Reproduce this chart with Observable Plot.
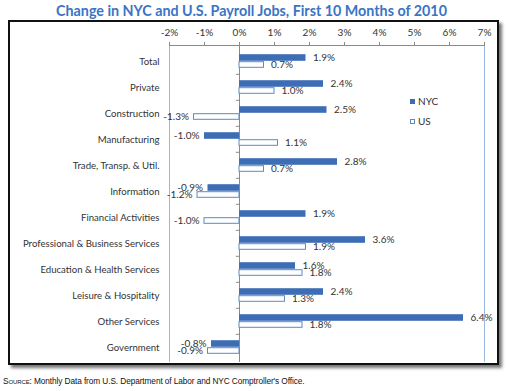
<!DOCTYPE html>
<html>
<head>
<meta charset="utf-8">
<script src="https://cdn.jsdelivr.net/npm/d3@7"></script>
<script src="https://cdn.jsdelivr.net/npm/@observablehq/plot@0.6"></script>
<style>
  html, body { margin: 0; padding: 0; background: #fff; }
  #page { position: relative; width: 507px; height: 391px; overflow: hidden; font-family: Lato, "Open Sans", sans-serif; }
  #title { position: absolute; left: 0; top: 2px; width: 503px; text-align: center; font: bold 14.3px Lato, sans-serif; color: #3a74c4; }
  #box { position: absolute; left: 8px; top: 20px; width: 487px; height: 341px; border: 2px solid #111; box-shadow: 3px 3px 3px #777; background: #fff; }
  #chart { position: absolute; left: 0; top: 20px; }
  #legend { position: absolute; left: 410px; top: 91px; font: 10px Lato, sans-serif; color: #333; }
  #legend div { height: 20px; display: flex; align-items: center; }
  #legend span.sw { display: inline-block; width: 5px; height: 5px; margin-right: 3px; box-sizing: border-box; }
  #source { position: absolute; left: 3px; top: 376px; font: 8.3px "Liberation Sans", Arial, sans-serif; color: #111; letter-spacing: -0.1px; }
</style>
</head>
<body>
<div id="page">
  <div id="title">Change in NYC and U.S. Payroll Jobs, First 10 Months of 2010</div>
  <div id="box"></div>
  <div id="chart"></div>
  <div id="legend"></div>
  <div id="source"><span style="font-variant: small-caps;">Source</span>: Monthly Data from U.S. Department of Labor and NYC Comptroller's Office.</div>
</div>
<script>
const categories = ["Total", "Private", "Construction", "Manufacturing", "Trade, Transp. & Util.", "Information", "Financial Activities", "Professional & Business Services", "Education & Health Services", "Leisure & Hospitality", "Other Services", "Government"];
const nycValues = [1.9, 2.4, 2.5, -1.0, 2.8, -0.9, 1.9, 3.6, 1.6, 2.4, 6.4, -0.8];
const usValues = [0.7, 1.0, -1.3, 1.1, 0.7, -1.2, -1.0, 1.9, 1.8, 1.3, 1.8, -0.9];
const xTicks = [-2, -1, 0, 1, 2, 3, 4, 5, 6, 7];
const seriesNames = ["NYC", "US"];

const nycColor = "#3d6eb5";
const usStroke = "#5b8ac9";
const gridBlue = "#9bb8e0";

const nyc = categories.map((c, i) => ({category: c, value: nycValues[i]}));
const us = categories.map((c, i) => ({category: c, value: usValues[i]}));
const fmt = v => v.toFixed(1) + "%";

const barHalf = 3.5;
const inset = 9.7;
const textStyle = {fontSize: 10, fill: "#333", fontFamily: "Lato, sans-serif"};

const chart = Plot.plot({
  width: 500,
  height: 345,
  marginTop: 25,
  marginBottom: 3,
  marginLeft: 169,
  marginRight: 16,
  x: {domain: [-2, 7], axis: null, label: null},
  y: {domain: categories, padding: 0, axis: null, label: null},
  marks: [
    Plot.ruleX([-2, 7], {stroke: gridBlue, strokeWidth: 1}),
    Plot.ruleX([0], {stroke: "#8a8a8a", strokeWidth: 1}),
    Plot.ruleY(categories.slice(1), {y: d => d, x1: -0.09, x2: 0, dy: -13.2, stroke: "#8a8a8a"}),
    Plot.frame({anchor: "top", stroke: "#8a8a8a"}),
    Plot.axisX({anchor: "top", ticks: xTicks, tickFormat: d => d + "%", tickSize: 4, tickPadding: 6, fontSize: 10, fontFamily: "Lato, sans-serif", color: "#333", stroke: "#8a8a8a", label: null}),
    Plot.axisY({anchor: "left", tickSize: 0, tickPadding: 10, fontSize: 9.6, fontFamily: "Lato, sans-serif", color: "#333", textAnchor: "end", label: null}),
    Plot.barX(nyc, {x: "value", y: "category", fill: nycColor, insetTop: inset, insetBottom: inset, dy: -barHalf}),
    Plot.barX(us, {x: "value", y: "category", fill: "#fff", stroke: usStroke, strokeWidth: 1, insetTop: inset + 0.5, insetBottom: inset + 0.5, dy: barHalf}),
    Plot.text(nyc.filter(d => d.value >= 0), {x: "value", y: "category", text: d => fmt(d.value), textAnchor: "start", dx: 7, dy: -barHalf, ...textStyle}),
    Plot.text(nyc.filter(d => d.value < 0), {x: "value", y: "category", text: d => fmt(d.value), textAnchor: "end", dx: -5, dy: -barHalf, ...textStyle}),
    Plot.text(us.filter(d => d.value >= 0), {x: "value", y: "category", text: d => fmt(d.value), textAnchor: "start", dx: 7, dy: barHalf, ...textStyle}),
    Plot.text(us.filter(d => d.value < 0), {x: "value", y: "category", text: d => fmt(d.value), textAnchor: "end", dx: -5, dy: barHalf, ...textStyle})
  ]
});
chart.style.background = "transparent";
document.getElementById("chart").appendChild(chart);

const legend = document.getElementById("legend");
seriesNames.forEach((name, i) => {
  const row = document.createElement("div");
  const sw = document.createElement("span");
  sw.className = "sw";
  if (i === 0) sw.style.background = nycColor;
  else { sw.style.background = "#fff"; sw.style.border = "1px solid " + usStroke; }
  row.appendChild(sw);
  row.appendChild(document.createTextNode(name));
  legend.appendChild(row);
});
</script>
</body>
</html>
